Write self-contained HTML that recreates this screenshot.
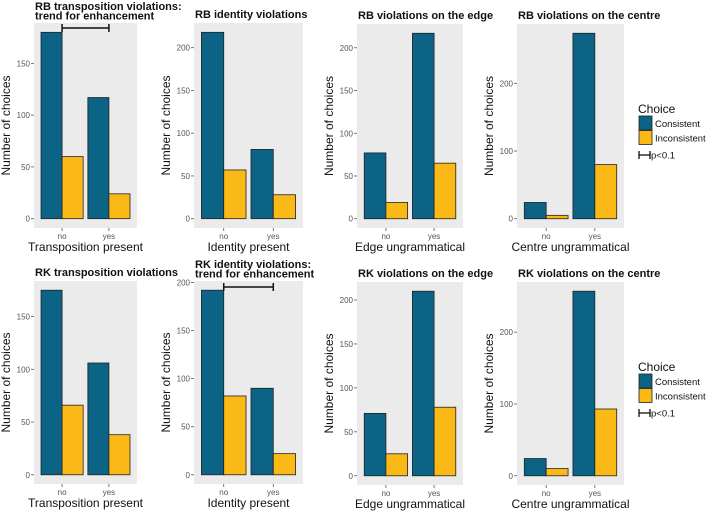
<!DOCTYPE html>
<html><head><meta charset="utf-8"><style>
body{margin:0;background:#fff;}
svg{display:block;font-family:"Liberation Sans",sans-serif;}
</style></head><body>
<svg id="chart" width="708" height="512" viewBox="0 0 708 512"></svg>
<script>
const categories = ["no","yes"];
const seriesNames = ["Consistent","Inconsistent"];
const panelTitles = [
 ["RB transposition violations:","trend for enhancement"],
 ["RB identity violations"],
 ["RB violations on the edge"],
 ["RB violations on the centre"],
 ["RK transposition violations"],
 ["RK identity violations:","trend for enhancement"],
 ["RK violations on the edge"],
 ["RK violations on the centre"]
];
const xTitles = ["Transposition present","Identity present","Edge ungrammatical","Centre ungrammatical",
 "Transposition present","Identity present","Edge ungrammatical","Centre ungrammatical"];
const consistentValues = [[180,117],[218,81],[77,217],[24,274],[175,106],[192,90],[71,210],[24,257]];
const inconsistentValues = [[60,24],[57,28],[19,65],[5,80],[66,38],[82,22],[25,78],[10,93]];
const tickValues = [[0,50,100,150],[0,50,100,150,200],[0,50,100,150,200],[0,100,200],
 [0,50,100,150],[0,50,100,150,200],[0,50,100,150,200],[0,100,200]];
const significant = [true,false,false,false,false,true,false,false];

const layout = [
 {x:34,y:23,w:103,h:205},{x:194,y:23,w:109,h:205},{x:357,y:24,w:106,h:204},{x:517,y:24,w:107,h:204},
 {x:34,y:281,w:103,h:203},{x:194,y:281,w:109,h:203},{x:357,y:282,w:106,h:203},{x:517,y:282,w:107,h:203}
];
const colors = ["#0b6386","#fbb917"];
const svg = document.getElementById('chart');
const NS = "http://www.w3.org/2000/svg";
function mk(tag, attrs, parent){const e=document.createElementNS(NS,tag);for(const k in attrs)e.setAttribute(k,attrs[k]);(parent||svg).appendChild(e);return e;}

layout.forEach((L,p)=>{
  const g = mk('g',{});
  
  
  const maxV = Math.max(...consistentValues[p],...inconsistentValues[p]);
  const lo = -0.05*maxV, hi = 1.05*maxV;
  const yS = v => L.y + L.h - (v-lo)/(hi-lo)*L.h;
  const unit = L.w/2.2;
  const xS = c => L.x + (c+1-0.4)*unit;
  const bg = mk('rect',{x:L.x,y:L.y,width:L.w,height:L.h,fill:'#ebebeb'},g);
  
  
  // title
  panelTitles[p].forEach((t,i)=>{
    const n = panelTitles[p].length;
    const base = n===2 ? L.y-13+i*9.5 : L.y-5;
    const tt = mk('text',{x:L.x+1,y:base,'font-size':11,'font-weight':'bold',fill:'#111'},g);
    tt.textContent=t;
    
    
  });
  // y ticks
  tickValues[p].forEach(v=>{
    const y=yS(v);
    mk('line',{x1:L.x-3,x2:L.x,y1:y,y2:y,stroke:'#555','stroke-width':0.8},g);
    const tl = mk('text',{x:L.x-4,y:y+3,'font-size':8,'text-anchor':'end',fill:'#555'},g);
    tl.textContent=v;
    
    
  });
  // bars
  categories.forEach((c,ci)=>{
    const cx=xS(ci);
    [consistentValues[p][ci],inconsistentValues[p][ci]].forEach((v,si)=>{
      const bx = cx - 0.45*unit + si*0.45*unit;
      const r = mk('rect',{x:bx,y:yS(v),width:0.45*unit,height:yS(0)-yS(v),fill:colors[si],stroke:'#222','stroke-width':0.8},g);
      
      
    });
    mk('line',{x1:cx,x2:cx,y1:L.y+L.h,y2:L.y+L.h+3,stroke:'#555','stroke-width':0.8},g);
    const xl = mk('text',{x:cx,y:L.y+L.h+11,'font-size':8,'text-anchor':'middle',fill:'#555'},g);
    xl.textContent=c;
    
    
  });
  const xt = mk('text',{x:L.x+L.w/2,y:L.y+L.h+23,'font-size':12,'text-anchor':'middle',fill:'#111'},g);
  xt.textContent=xTitles[p];
  
  
  const ytx = L.x-24, yty = L.y+L.h/2;
  const yt = mk('text',{x:ytx,y:yty,'font-size':12,'text-anchor':'middle',fill:'#111',transform:`rotate(-90 ${ytx} ${yty})`},g);
  yt.textContent='Number of choices';
  
  
  if(significant[p]){
    const y = p<4 ? L.y+5 : L.y+6;
    const x1=xS(0), x2=xS(1);
    const sg = mk('g',{stroke:'#111','stroke-width':1.5},g);
    
    
    mk('line',{x1:x1,x2:x2,y1:y,y2:y},sg);
    mk('line',{x1:x1,x2:x1,y1:y-4,y2:y+4},sg);
    mk('line',{x1:x2,x2:x2,y1:y-4,y2:y+4},sg);
  }
});
// legends
[108,366].forEach((ly,i)=>{
  const g = mk('g',{});
  
  
  const t = mk('text',{x:638,y:ly+5,'font-size':12,fill:'#111'},g); t.textContent='Choice';
  seriesNames.forEach((s,si)=>{
    const r = mk('rect',{x:639,y:ly+8+si*14.5,width:13,height:14,fill:colors[si],stroke:'#222','stroke-width':0.8},g);
    
    
    const lt = mk('text',{x:655,y:ly+19+si*14.5,'font-size':9.5,fill:'#111'},g); lt.textContent=s;
    
    
  });
  const py = ly+47;
  mk('line',{x1:639,x2:650,y1:py,y2:py,stroke:'#111','stroke-width':1.3},g);
  mk('line',{x1:639,x2:639,y1:py-4,y2:py+4,stroke:'#111','stroke-width':1.3},g);
  mk('line',{x1:650,x2:650,y1:py-4,y2:py+4,stroke:'#111','stroke-width':1.3},g);
  const pt = mk('text',{x:651,y:py+3.5,'font-size':9.5,fill:'#111'},g); pt.textContent='p<0.1';
  
  
});
</script>
</body></html>
